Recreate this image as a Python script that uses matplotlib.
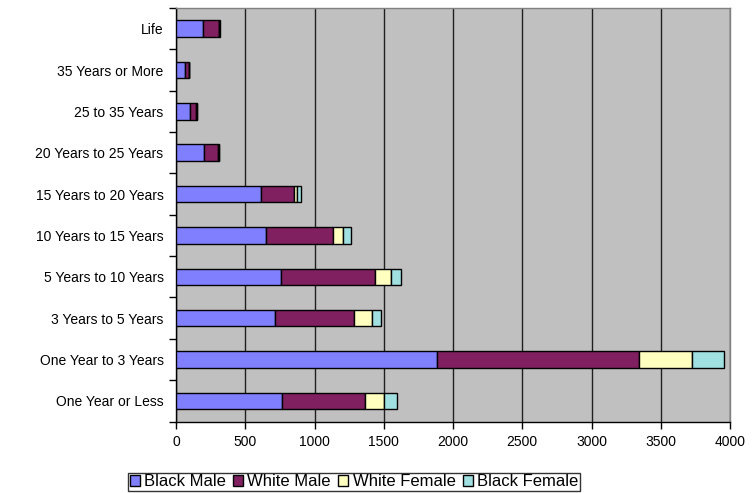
import matplotlib
matplotlib.use("Agg")
import matplotlib.pyplot as plt
import numpy as np

plt.rcParams['font.family'] = ['Liberation Sans', 'DejaVu Sans']

categories = ["One Year or Less", "One Year to 3 Years", "3 Years to 5 Years",
              "5 Years to 10 Years", "10 Years to 15 Years", "15 Years to 20 Years",
              "20 Years to 25 Years", "25 to 35 Years", "35 Years or More", "Life"]

black_male = [765, 1886, 715, 756, 652, 613, 205, 104, 63, 193]
white_male = [600, 1457, 572, 679, 483, 240, 97, 41, 29, 116]
white_female = [139, 382, 126, 116, 73, 21, 6, 5, 2, 5]
black_female = [90, 230, 68, 72, 58, 27, 6, 5, 3, 5]

series = [("Black Male", black_male, "#8080FF"),
          ("White Male", white_male, "#802060"),
          ("White Female", white_female, "#FFFFC0"),
          ("Black Female", black_female, "#A0E0E0")]

fig = plt.figure(figsize=(7.56, 4.93), dpi=100)
ax = fig.add_axes([176 / 756, 1 - 421.5 / 493, (730 - 176) / 756, (421.5 - 8) / 493])
ax.set_facecolor("#C0C0C0")

y = np.arange(len(categories))
left = np.zeros(len(categories))
for name, vals, color in series:
    ax.barh(y, vals, left=left, height=0.4, color=color, edgecolor="black",
            linewidth=1.0, label=name, zorder=3)
    left += np.array(vals)

ax.set_xlim(0, 4000)
ax.set_ylim(-0.5, len(categories) - 0.5)
ax.set_xticks(np.arange(0, 4001, 500))
ax.set_xticklabels([str(v) for v in range(0, 4001, 500)], fontsize=10)
ax.set_yticks(y)
ax.set_yticklabels(categories, fontsize=10)
ax.set_yticks(np.arange(-0.5, len(categories), 1), minor=True)
ax.tick_params(axis='y', which='major', length=0, pad=9)
ax.tick_params(axis='y', which='minor', length=5, width=1, direction='out')
ax.tick_params(axis='x', which='major', length=5, width=1, direction='out', pad=5)

ax.grid(axis='x', color="#202020", linewidth=1.0, zorder=1)
ax.set_axisbelow(True)

ax.spines['left'].set_color("black")
ax.spines['bottom'].set_color("black")
ax.spines['top'].set_color("#808080")
ax.spines['right'].set_color("#808080")
for s in ax.spines.values():
    s.set_linewidth(1.0)

leg = fig.legend(loc="center", bbox_to_anchor=(354 / 756, 1 - 482 / 493), ncol=4,
                 fontsize=12, frameon=True, fancybox=False, edgecolor="black",
                 handlelength=0.6, handleheight=0.6, handletextpad=0.25,
                 columnspacing=0.45, borderpad=0.1, borderaxespad=0)
leg.get_frame().set_linewidth(1.0)

fig.savefig("out.png", dpi=100)
